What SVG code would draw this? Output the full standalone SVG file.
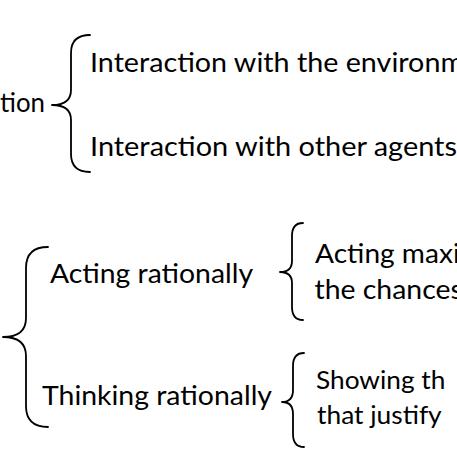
<svg xmlns="http://www.w3.org/2000/svg" width="457" height="457" viewBox="0 0 457 457">
<style>
text{font-family:Lato,"Open Sans","Liberation Sans",sans-serif;fill:#000;}
.l{font-size:27.5px;}
.s{font-size:25.6px;}
.br{fill:none;stroke:#000;stroke-width:1.8;stroke-linecap:round;stroke-linejoin:round;}
</style>
<rect width="457" height="457" fill="#fff"/>
<g id="connectors">
<path class="br" d="M90 35 Q71 35 71 53 L71 90 Q71 105 52 105 Q71 105 71 120 L71 154 Q71 172 90 172"/>
<path class="br" d="M48 247 Q26 247 26 268 L26 318 Q26 337 3 337 Q26 337 26 356 L26 406 Q26 427 48 427"/>
<path class="br" d="M303 223 Q292 223 292 236 L292 261 Q292 272 280 272 Q292 272 292 283 L292 307 Q292 320 303 320"/>
<path class="br" d="M304 353 Q293 353 293 366 L293 390 Q293 402 282 402 Q293 402 293 414 L293 434 Q293 447 304 447"/>
</g>
<g id="n-root"><text class="l" x="0" y="112" textLength="45" lengthAdjust="spacingAndGlyphs">tion</text></g>
<g id="n-env"><text class="l" x="90" y="72" textLength="374" lengthAdjust="spacingAndGlyphs">Interaction with the environm</text></g>
<g id="n-agents"><text class="l" x="90" y="156" textLength="367" lengthAdjust="spacingAndGlyphs">Interaction with other agents</text></g>
<g id="n-acting"><text class="l" x="50" y="283" textLength="203" lengthAdjust="spacingAndGlyphs">Acting rationally</text></g>
<g id="n-thinking"><text class="l" x="42" y="405" textLength="230" lengthAdjust="spacingAndGlyphs">Thinking rationally</text></g>
<g id="n-acting-detail">
<text class="l" x="315" y="263" textLength="144.7" lengthAdjust="spacingAndGlyphs">Acting maxi</text>
<text class="l" x="314.5" y="298.5" textLength="148.3" lengthAdjust="spacingAndGlyphs">the chances</text>
</g>
<g id="n-thinking-detail">
<text class="s" x="316" y="388.5" textLength="129.3" lengthAdjust="spacingAndGlyphs">Showing th</text>
<text class="s" x="317" y="423.5" textLength="124.7" lengthAdjust="spacingAndGlyphs">that justify</text>
</g>
</svg>
